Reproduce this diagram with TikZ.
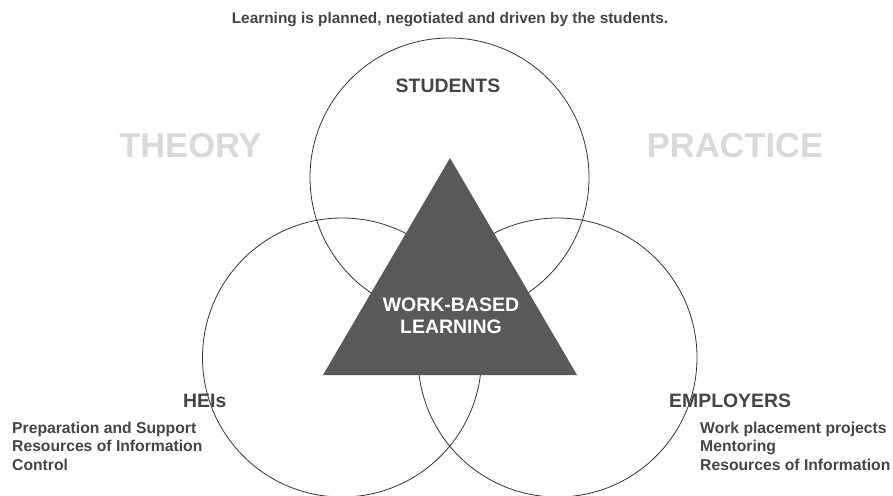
\documentclass[tikz,border=0pt]{standalone}
\usepackage{fontspec}
\setmainfont{Liberation Sans}
\definecolor{ink}{HTML}{444444}
\definecolor{faint}{HTML}{D9D9D9}
\definecolor{wedge}{HTML}{595959}
\definecolor{rim}{HTML}{333333}
\begin{document}
\begin{tikzpicture}[x=1pt,y=-1pt,
  ring/.style={circle, draw=rim, line width=0.8pt, minimum size=279pt, inner sep=0pt},
  caption/.style={font=\fontsize{15.4}{18}\selectfont\bfseries, text=ink, inner sep=0pt, anchor=base},
  head/.style={font=\fontsize{19.4}{22}\selectfont\bfseries, text=ink, inner sep=0pt},
  item/.style={font=\fontsize{15.7}{18}\selectfont\bfseries, text=ink, inner sep=0pt, anchor=base west},
  side/.style={font=\fontsize{34.5}{40}\selectfont\bfseries, text=faint, inner sep=0pt, anchor=base},
  core/.style={font=\fontsize{19.5}{22}\selectfont\bfseries, text=white, inner sep=0pt, anchor=base}]
\useasboundingbox (0,0) rectangle (893,495);
\clip (0,0) rectangle (893,495);

% the three overlapping circles
\node[ring] (students) at (449.5,177.5) {};
\node[ring] (heis) at (342,357.5) {};
\node[ring] (employers) at (557.5,357.5) {};

% central triangle
\coordinate (tl) at (323,375);
\coordinate (tt) at (450,158);
\coordinate (tr) at (577,375);
\fill[wedge] (tl) -- (tt) -- (tr) -- cycle;
\node[core] (wb1) at (451,311.5) {WORK-BASED};
\node[core] (wb2) at (451,333.5) {LEARNING};

% headline
\node[caption] (motto) at (450,24) {Learning is planned, negotiated and driven by the students.};

% background words
\node[side] (theory) at (190.5,157) {THEORY};
\node[side] (practice) at (735,157) {PRACTICE};

% circle labels
\node[head, anchor=base] (lstud) at (448,92.7) {STUDENTS};
\node[head, anchor=base west] (lheis) at (183,407) {HEIs};
\node[head, anchor=base west] (lemp) at (669,407) {EMPLOYERS};

% HEI roles
\node[item] (h1) at (12,433) {Preparation and Support};
\node[item] (h2) at (12,451.5) {Resources of Information};
\node[item] (h3) at (12,470) {Control};

% employer roles
\node[item] (e1) at (700,433) {Work placement projects};
\node[item] (e2) at (700,451.5) {Mentoring};
\node[item] (e3) at (700,470) {Resources of Information};
\end{tikzpicture}
\end{document}
